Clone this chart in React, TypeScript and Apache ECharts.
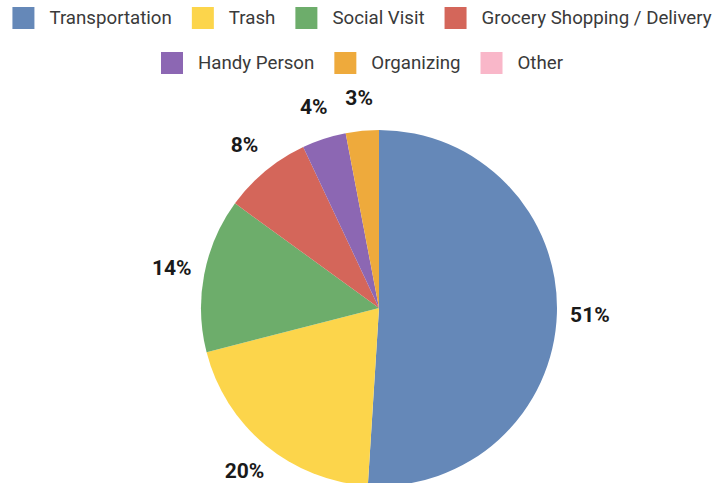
import React, { useEffect, useRef } from "react";
import * as echarts from "echarts";

const categories = [
  "Transportation",
  "Trash",
  "Social Visit",
  "Grocery Shopping / Delivery",
  "Handy Person",
  "Organizing",
  "Other",
];
const values = [51, 20, 14, 8, 4, 3, 0];
const colors = ["#6588B8", "#FCD54B", "#6DAD6B", "#D4665A", "#8C67B3", "#EEAA3C", "#F9B7C9"];
const legendRow1 = categories.slice(0, 4);
const legendRow2 = categories.slice(4);

export default function App() {
  const ref = useRef<HTMLDivElement>(null);
  useEffect(() => {
    if (!ref.current) return;
    const chart = echarts.init(ref.current, undefined, { renderer: "svg" });
    const data = categories.map((name, i) => ({
      name,
      value: values[i],
      itemStyle: { color: colors[i] },
    }));
    const labelData = categories.map((name, i) => ({
      name,
      value: values[i],
      label: { show: values[i] > 0 },
    }));
    const legendCommon = {
      orient: "horizontal" as const,
      left: "center",
      padding: 0,
      itemWidth: 22,
      itemHeight: 22,
      itemGap: 20,
      icon: "rect",
      textStyle: {
        fontFamily: "Roboto",
        fontSize: 18.7,
        color: "#3a3a3a",
        padding: [0, 0, 0, 10],
      },
    };
    chart.setOption({
      animation: false,
      color: colors,
      legend: [
        { ...legendCommon, top: 7, data: legendRow1 },
        { ...legendCommon, top: 52, data: legendRow2 },
      ],
      series: [
        {
          type: "pie",
          center: [379, 308],
          radius: [0, 178],
          startAngle: 90,
          clockwise: true,
          label: { show: false },
          labelLine: { show: false },
          itemStyle: { borderWidth: 0 },
          emphasis: { disabled: true },
          data,
        },
        {
          type: "pie",
          center: [379, 308],
          radius: [195, 221],
          startAngle: 90,
          clockwise: true,
          silent: true,
          itemStyle: { color: "rgba(0,0,0,0)", borderWidth: 0 },
          label: {
            show: true,
            position: "inside",
            formatter: "{c}%",
            fontFamily: "Roboto",
            fontWeight: "bold",
            fontSize: 21,
            color: "#1a1a1a",
          },
          labelLine: { show: false },
          emphasis: { disabled: true },
          data: labelData,
        },
      ],
    });
    return () => chart.dispose();
  }, []);
  return (
    <div
      ref={ref}
      style={{ position: "absolute", left: 0, top: 0, width: 724, height: 483, background: "#fff" }}
    />
  );
}
